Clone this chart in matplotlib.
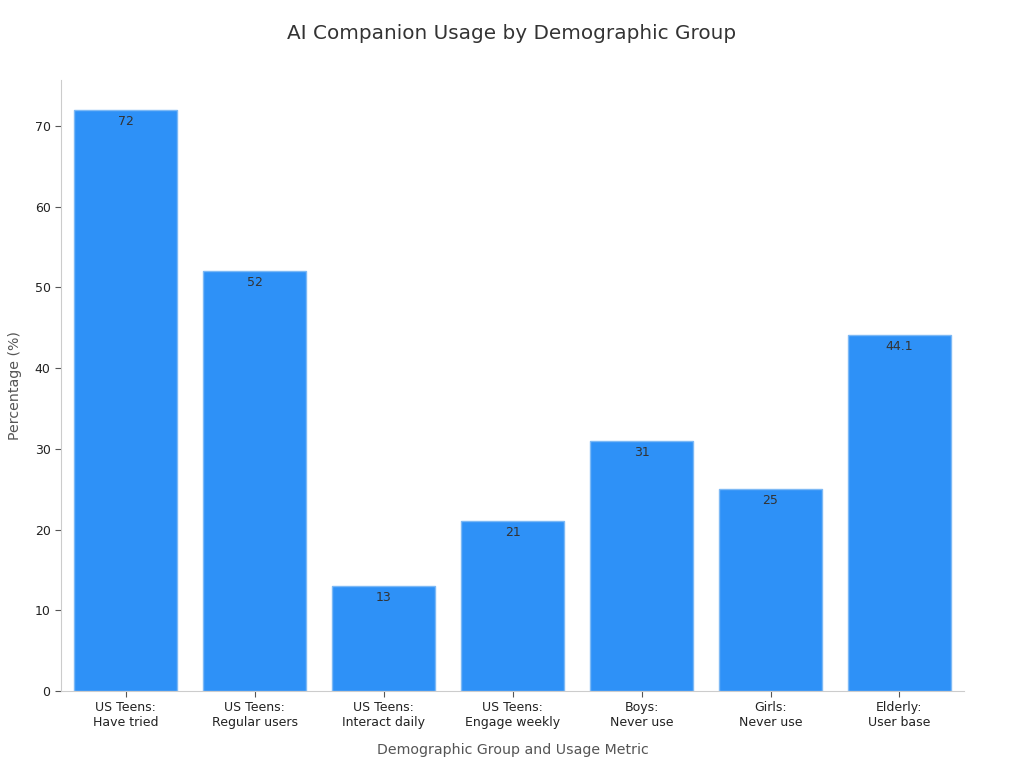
import matplotlib
matplotlib.use("Agg")
import matplotlib.pyplot as plt

categories = ["US Teens:\nHave tried", "US Teens:\nRegular users", "US Teens:\nInteract daily",
              "US Teens:\nEngage weekly", "Boys:\nNever use", "Girls:\nNever use", "Elderly:\nUser base"]
values = [72, 52, 13, 21, 31, 25, 44.1]
value_labels = ["72", "52", "13", "21", "31", "25", "44.1"]

fig = plt.figure(figsize=(10.24, 7.68), dpi=100)
ax = fig.add_axes([0.0596, 0.1003, 0.8818, 0.7957])

x = range(len(categories))
bars = ax.bar(x, values, width=0.8, color="#2E91F7", edgecolor="#7DB9F5", linewidth=1)
for xi, v, lab in zip(x, values, value_labels):
    ax.text(xi, v - 0.6, lab, ha="center", va="top", fontsize=9, color="#333333")

ax.set_xlim(-0.5, 6.5)
ax.set_ylim(0, 75.7)
ax.set_xticks(list(x))
ax.set_xticklabels(categories, fontsize=9, color="#222222")
ax.tick_params(axis="y", labelsize=9, colors="#222222")
ax.tick_params(axis="both", color="#555555", length=4)
for s in ["top", "right"]:
    ax.spines[s].set_visible(False)
for s in ["left", "bottom"]:
    ax.spines[s].set_color("#cccccc")

ax.set_xlabel("Demographic Group and Usage Metric", fontsize=10.2, color="#555555", labelpad=10)
ax.set_ylabel("Percentage (%)", fontsize=10.2, color="#555555", labelpad=9)
fig.text(0.5, 0.957, "AI Companion Usage by Demographic Group", ha="center", va="center",
         fontsize=14.4, color="#333333")

fig.savefig("out.png", dpi=100)
